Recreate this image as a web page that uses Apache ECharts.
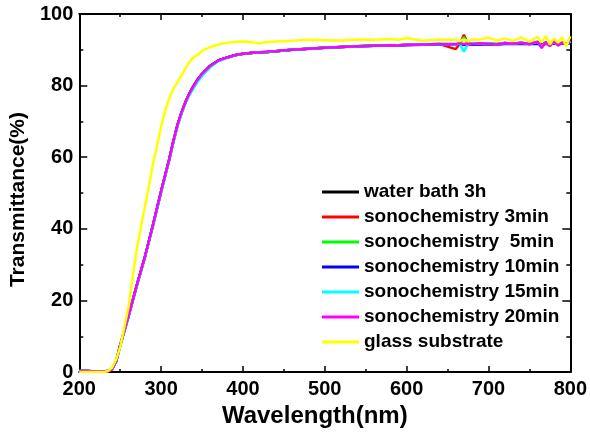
<!DOCTYPE html>
<html>
<head>
<meta charset="utf-8">
<script src="https://cdn.jsdelivr.net/npm/echarts@6/dist/echarts.min.js"></script>
<style>html,body{margin:0;padding:0;background:#fff}#c{width:590px;height:433px}</style>
</head>
<body>
<div id="c"></div>
<script>
const wavelength = [200,210,220,230,235,240,245,250,255,260,270,280,290,300,305,310,315,320,325,330,335,340,345,350,360,370,380,390,400,410,420,430,440,450,460,480,500,520,540,560,580,590,600,620,640,660,665,670,675,680,690,700,710,720,730,740,750,760,765,770,775,780,785,790,795,800];

const waterBath3h = [0.3,0.3,0.2,0.2,0.3,0.8,3,7.5,11.5,15.5,24,32,41,50.5,55,59.5,64.5,69,72.5,75.5,78,80,81.8,83.3,85.5,87,87.8,88.5,88.9,89.1,89.3,89.4,89.6,89.8,90,90.3,90.6,90.8,91,91.1,91.3,91.3,91.4,91.5,91.5,91.5,91.6,91.5,91.6,91.6,91.6,91.7,91.6,91.7,91.7,91.8,91.7,91.8,91.6,91.9,91.7,91.9,91.7,91.8,91.8,92];
const sono3min = [0.3,0.3,0.2,0.2,0.3,0.8,3,7.5,11.5,15.5,24,32,41,50.5,55,59.5,64.5,69,72.5,75.6,78,80.1,81.8,83.3,85.6,87,87.8,88.5,88.9,89.1,89.3,89.4,89.6,89.8,90,90.3,90.6,90.8,91,91.1,91.3,91.3,91.4,91.5,91.6,90.2,91.7,94.2,91.6,91.7,91.6,91.7,91.5,91.9,91.7,92,91.6,92.2,90.8,92.1,91.2,92.3,91.3,92,91.5,92.5];
const sono5min = [0.3,0.3,0.2,0.2,0.3,0.8,3,7.5,11.5,15.5,24,32,41,50.5,55,59.5,64.5,69,72.5,75.5,78,80,81.8,83.3,85.5,87,87.8,88.5,88.9,89.1,89.3,89.4,89.6,89.8,90,90.3,90.6,90.8,91,91.1,91.3,91.3,91.4,91.5,91.6,91.5,91.8,93.5,91.7,91.6,91.7,91.7,91.5,91.9,91.7,92,91.6,92.2,90.8,92.1,91.1,92.3,91.3,92,91.5,92.4];
const sono10min = [0.3,0.3,0.2,0.2,0.3,0.8,3,7.4,11.4,15.4,24,32,41,50.4,54.9,59.4,64.4,68.9,72.4,75.4,77.9,80,81.7,83.2,85.5,87,87.8,88.5,88.9,89.1,89.3,89.4,89.6,89.8,90,90.3,90.6,90.8,91,91.1,91.2,91.3,91.3,91.4,91.5,91.5,91.5,91.4,91.5,91.5,91.5,91.6,91.5,91.6,91.6,91.7,91.6,91.7,91.6,91.7,91.6,91.8,91.6,91.7,91.7,91.8];
const sono15min = [0.3,0.3,0.2,0.2,0.3,0.8,3,7.3,11.3,15.3,23.8,31.8,40.8,50.2,54.7,59.2,64.1,68.6,72.1,75.2,77.5,79.4,81.2,82.7,85.1,86.8,87.7,88.4,88.9,89.1,89.3,89.4,89.6,89.8,90,90.3,90.6,90.8,91,91.1,91.3,91.3,91.4,91.5,91.6,91.5,91.7,89.5,91.6,91.7,91.7,91.8,91.5,91.9,91.7,92,91.6,92.2,90.9,92.1,91.2,92.2,91.3,92,91.5,92.4];
const sono20min = [0.3,0.3,0.2,0.2,0.3,0.8,3,7.5,11.5,15.5,24,32,41,50.5,55,59.5,64.5,69,72.6,75.5,78,80,81.8,83.3,85.5,87,87.8,88.5,88.9,89.2,89.3,89.5,89.6,89.9,90,90.3,90.6,90.8,91,91.1,91.3,91.2,91.4,91.5,91.6,91.6,91.8,91.6,91.7,91.6,91.8,91.7,91.5,91.9,91.7,92,91.6,92.3,90.5,92.2,91,92.4,91.2,92,91.5,92.6];
const glassSubstrate = [0,0,0,0,0.3,1.2,3.5,7,12.5,18,34,46,58,68.5,73,76.5,79,81,82.8,85,86.7,88,88.6,89.7,90.8,91.5,92,92.2,92.3,92.2,91.8,92.2,92.3,92.4,92.5,92.8,92.7,92.6,92.9,92.8,93,92.8,93.2,92.5,92.9,92.8,92.5,92.9,92.4,92.8,92.9,93.4,92.6,93.2,92.5,93.5,92.3,93.6,92,93.8,91.5,93.2,92,93.5,91,93.8];

const seriesNames = ['water bath 3h','sonochemistry 3min','sonochemistry  5min','sonochemistry 10min','sonochemistry 15min','sonochemistry 20min','glass substrate'];
const seriesValues = [waterBath3h, sono3min, sono5min, sono10min, sono15min, sono20min, glassSubstrate];
const seriesColors = ['#000000','#ff0000','#00ff00','#0000ff','#00ffff','#ff00ff','#ffff00'];

const xTicks = [200,300,400,500,600,700,800];
const yTicks = [0,20,40,60,80,100];

const FONT = 'Liberation Sans, Arial, sans-serif';
const chart = echarts.init(document.getElementById('c'), null, {renderer:'canvas'});

const labelStyle = {color:'#000', fontWeight:'bold', fontSize:20, fontFamily:FONT};
const axisLineStyle = {show:true, onZero:false, lineStyle:{color:'#000', width:2}};

function baseX(pos, showLabel) {
  return {
    type:'value', position:pos, min:xTicks[0], max:xTicks[xTicks.length-1], interval:100,
    axisLine:axisLineStyle,
    axisTick:{show:true, inside:true, length:6, lineStyle:{color:'#000', width:1.5}},
    minorTick:{show:true, splitNumber:2, length:3, lineStyle:{color:'#000', width:1.5}},
    axisLabel:Object.assign({show:showLabel, margin:7}, labelStyle),
    splitLine:{show:false}
  };
}
function baseY(pos, showLabel) {
  return {
    type:'value', position:pos, min:yTicks[0], max:yTicks[yTicks.length-1], interval:20,
    axisLine:axisLineStyle,
    axisTick:{show:true, inside:true, length:8, lineStyle:{color:'#000', width:1.5}},
    minorTick:{show:true, splitNumber:2, length:4, lineStyle:{color:'#000', width:1.5}},
    axisLabel:Object.assign({show:showLabel, margin:6}, labelStyle),
    splitLine:{show:false}
  };
}

const xMain = baseX('bottom', true);
xMain.name = 'Wavelength(nm)';
xMain.nameLocation = 'middle';
xMain.nameGap = 22;
xMain.nameTextStyle = {color:'#000', fontWeight:'bold', fontSize:24, fontFamily:FONT, padding:[0,20,0,0]};
const yMain = baseY('left', true);
yMain.name = 'Transmittance(%)';
yMain.nameLocation = 'middle';
yMain.nameGap = 33;
yMain.nameTextStyle = {color:'#000', fontWeight:'bold', fontSize:21, fontFamily:FONT, padding:[0,13,0,0]};

const series = seriesNames.map((n, i) => ({
  name:n, type:'line', xAxisIndex:0, yAxisIndex:0,
  data: wavelength.map((w, j) => [w, seriesValues[i][j]]),
  showSymbol:false, symbol:'none', smooth:false,
  lineStyle:{color:seriesColors[i], width:2.5},
  itemStyle:{color:seriesColors[i]},
  z: 2 + i,
  animation:false
}));

chart.setOption({
  animation:false,
  backgroundColor:'#fff',
  grid:{left:68, right:17.5, top:14, bottom:59.5},
  xAxis:[xMain, baseX('top', false)],
  yAxis:[yMain, baseY('right', false)],
  legend:{
    orient:'vertical', left:317, top:177.5,
    icon:'rect', itemWidth:37, itemHeight:3, itemGap:6,
    textStyle:{color:'#000', fontWeight:'bold', fontSize:19, fontFamily:FONT, lineHeight:19, padding:[0,0,0,0]},
    data:seriesNames
  },
  series:series
});
</script>
</body>
</html>
